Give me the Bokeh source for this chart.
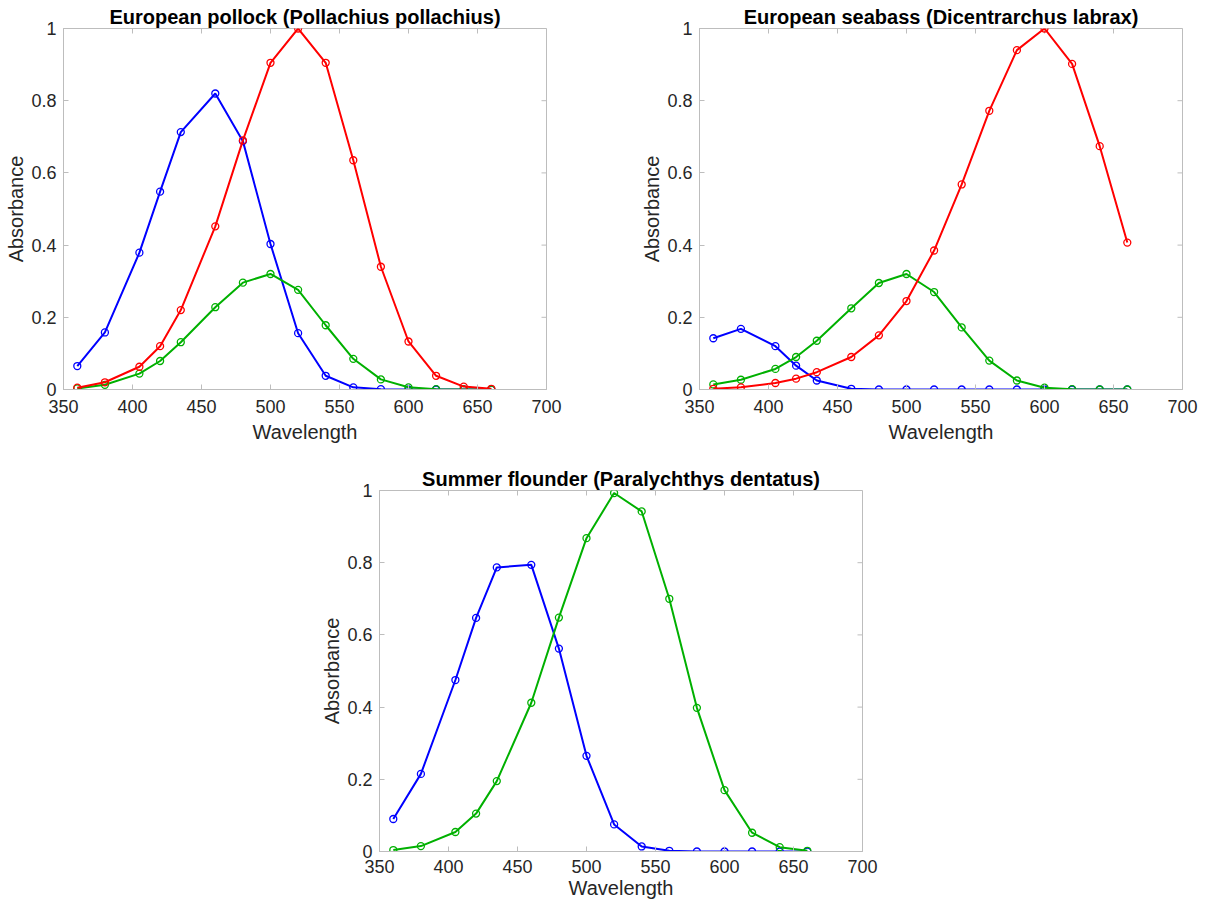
import math

from bokeh.plotting import figure
from bokeh.layouts import column, row
from bokeh.models import Range1d, FixedTicker, CustomJSTickFormatter, Spacer
from bokeh.embed import file_html
from bokeh.resources import INLINE

# Sample wavelengths (nm)
wavelength = [360, 380, 405, 420, 435, 460, 480, 500, 520, 540, 560, 580, 600, 620, 640, 660]

# European pollock (Pollachius pollachius)
pollock_blue = [0.065, 0.158, 0.379, 0.548, 0.713, 0.820, 0.688, 0.403, 0.156, 0.038, 0.006, 0.001, 0.0, 0.0, 0.0, 0.0]
pollock_green = [0.003, 0.013, 0.044, 0.079, 0.131, 0.228, 0.296, 0.320, 0.276, 0.178, 0.085, 0.028, 0.006, 0.001, 0.0, 0.0]
pollock_red = [0.005, 0.020, 0.063, 0.120, 0.220, 0.452, 0.690, 0.905, 1.000, 0.905, 0.635, 0.340, 0.133, 0.038, 0.008, 0.002]

# European seabass (Dicentrarchus labrax)
seabass_blue = [0.142, 0.168, 0.120, 0.066, 0.025, 0.002, 0.0, 0.0, 0.0, 0.0, 0.0, 0.0, 0.0, 0.0, 0.0, 0.0]
seabass_green = [0.014, 0.027, 0.057, 0.090, 0.135, 0.225, 0.295, 0.320, 0.270, 0.172, 0.080, 0.025, 0.005, 0.001, 0.0, 0.0]
seabass_red = [0.002, 0.006, 0.018, 0.030, 0.048, 0.090, 0.150, 0.245, 0.385, 0.568, 0.772, 0.940, 1.000, 0.902, 0.674, 0.407]

# Summer flounder (Paralychthys dentatus)
flounder_blue = [0.090, 0.215, 0.475, 0.647, 0.787, 0.794, 0.562, 0.265, 0.075, 0.014, 0.002, 0.0, 0.0, 0.0, 0.0, 0.0]
flounder_green = [0.004, 0.015, 0.054, 0.105, 0.195, 0.412, 0.648, 0.868, 0.993, 0.942, 0.700, 0.398, 0.170, 0.052, 0.012, 0.002]

x_ticks = [350, 400, 450, 500, 550, 600, 650, 700]
y_ticks = [0, 0.2, 0.4, 0.6, 0.8, 1.0]
X_MIN, X_MAX = 350, 700
Y_MIN, Y_MAX = 0, 1

BLUE = "#0000ff"
GREEN = "#00b000"
RED = "#ff0000"
AXIS_GRAY = "#bdbdbd"
TEXT = "#262626"
FONT = "Liberation Sans"
TICK_LEN = 5


def style_axis(ax):
    ax.axis_line_color = AXIS_GRAY
    ax.axis_line_width = 1
    ax.major_tick_line_color = AXIS_GRAY
    ax.major_tick_in = TICK_LEN
    ax.major_tick_out = 0
    ax.minor_tick_line_color = None
    ax.major_label_text_font = FONT
    ax.major_label_text_font_size = "18px"
    ax.major_label_text_color = TEXT
    ax.axis_label_text_font = FONT
    ax.axis_label_text_font_size = "20px"
    ax.axis_label_text_font_style = "normal"
    ax.axis_label_text_color = TEXT


def make_panel(title, series, right_border, top_border, bottom_border,
               tick_standoff, label_standoff):
    p = figure(
        title=title,
        frame_width=483, frame_height=361,
        x_range=Range1d(X_MIN, X_MAX), y_range=Range1d(Y_MIN, Y_MAX),
        output_backend="svg", toolbar_location=None,
        min_border_left=63, min_border_right=right_border,
        min_border_top=top_border, min_border_bottom=bottom_border,
    )
    p.background_fill_color = "white"
    p.border_fill_color = "white"
    p.outline_line_color = AXIS_GRAY
    p.grid.visible = False

    p.title.text_font = FONT
    p.title.text_font_size = "20px"
    p.title.text_font_style = "bold"
    p.title.text_color = "black"
    p.title.align = "center"
    p.title.standoff = 2

    p.xaxis.ticker = FixedTicker(ticks=x_ticks)
    p.yaxis.ticker = FixedTicker(ticks=y_ticks)
    p.yaxis.formatter = CustomJSTickFormatter(code="return String(Math.round(tick * 10) / 10);")
    p.xaxis.axis_label = "Wavelength"
    p.yaxis.axis_label = "Absorbance"
    style_axis(p.xaxis[0])
    style_axis(p.yaxis[0])
    p.xaxis.major_label_standoff = tick_standoff
    p.xaxis.axis_label_standoff = label_standoff
    p.yaxis.major_label_standoff = 7
    p.yaxis.axis_label_standoff = 1

    # mirrored inward ticks on the top and right edges of the box
    p.ray(x=x_ticks, y=[Y_MAX] * len(x_ticks), length=TICK_LEN, length_units="screen",
          angle=-math.pi / 2, line_color=AXIS_GRAY, line_width=1)
    p.ray(x=[X_MAX] * len(y_ticks), y=y_ticks, length=TICK_LEN, length_units="screen",
          angle=math.pi, line_color=AXIS_GRAY, line_width=1)

    for ys, color in series:
        p.line(wavelength, ys, line_color=color, line_width=2)
        p.scatter(wavelength, ys, marker="circle", size=7, fill_color=None,
                  line_color=color, line_width=1.3)
    return p


p1 = make_panel("European pollock (Pollachius pollachius)",
                [(pollock_blue, BLUE), (pollock_green, GREEN), (pollock_red, RED)],
                90, 28, 54, 10, 5)
p2 = make_panel("European seabass (Dicentrarchus labrax)",
                [(seabass_blue, BLUE), (seabass_green, GREEN), (seabass_red, RED)],
                24, 28, 54, 10, 5)
p3 = make_panel("Summer flounder (Paralychthys dentatus)",
                [(flounder_blue, BLUE), (flounder_green, GREEN)],
                24, 45, 48, 8, 1)

layout = column(row(p1, p2), row(Spacer(width=316, height=10), p3))

open("out.html", "w").write(file_html(layout, INLINE))
